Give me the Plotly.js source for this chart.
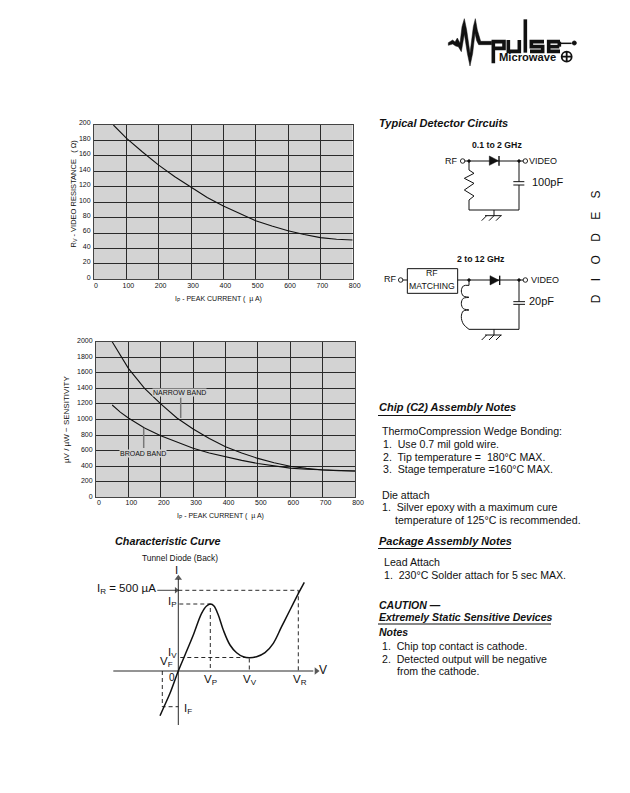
<!DOCTYPE html>
<html><head><meta charset="utf-8">
<script src="https://cdn.plot.ly/plotly-3.0.1.min.js"></script>
<style>html,body{margin:0;padding:0;background:#fff}#c{width:630px;height:793px}</style>
</head><body><div id="c"></div>
<script>
// ---------- chart data ----------
const resCurrent = [60,100,150,200,250,300,350,400,450,500,550,600,650,700,750,800];
const resOhms    = [200,183,165,148,133,119,106,95,85,76,69,63,58,54,52,51];
const narrowCurrent = [50,75,100,150,200,250,300,350,400,450,500,550,600,650,700,750,800];
const narrowSens    = [2000,1820,1657,1400,1200,1020,878,755,650,570,500,445,400,372,350,342,338];
const broadCurrent  = [50,75,100,150,200,250,300,350,400,450,500,550,600,650,700,750,800];
const broadSens     = [1186,1095,1020,890,790,705,630,570,520,475,435,402,375,360,350,342,338];
// characteristic curve, arbitrary units about the origin
const ivV = [-18.3,-14.3,-8.3,0,6.7,15,23.3,28.3,32.3,35.7,40,45,51.7,58.3,65,71,78.3,86.7,95,103.3,111.7,121,126];
const ivI = [-44.7,-35.7,-22.3,0,16,36,57.7,65,67,65,56,41,26,18.3,14.3,13.3,14.3,18.3,27.7,44.3,61,79.3,88.7];
const ticksX = [0,100,200,300,400,500,600,700,800];

const FONT = 'Liberation Sans, Arial, sans-serif';
const INK = '#111';
const W = 630, H = 793;
const dom = (a,b,t)=>[a/t,b/t];
const domY = (top,bot)=>[1-bot/H,1-top/H];
const NB = n=>'\u00a0'.repeat(n);

function mainAxis(extra){
  return Object.assign({
    showgrid:true, gridcolor:'#2a2a2a', gridwidth:1, zeroline:false,
    showline:true, linecolor:'#444', linewidth:1, mirror:true,
    ticks:'', tickfont:{family:FONT,size:7,color:INK}, fixedrange:true
  },extra);
}
function hiddenAxis(extra){
  return Object.assign({visible:false,showgrid:false,zeroline:false,fixedrange:true},extra);
}

const layout = {
  width:W,height:H,margin:{l:0,r:0,t:0,b:0,pad:0},
  paper_bgcolor:'#fff',plot_bgcolor:'rgba(0,0,0,0)',showlegend:false,
  font:{family:FONT,color:INK},
  xaxis:mainAxis({domain:dom(94,352.7,W),range:[0,800],anchor:'y',tickvals:ticksX,ticklabelshift:2,ticklabelstandoff:-1}),
  yaxis:mainAxis({domain:domY(125,279.3),range:[0,200],anchor:'x',dtick:20,ticklabelshift:-2,ticklabelstandoff:1}),
  xaxis2:mainAxis({domain:dom(96,355,W),range:[0,800],anchor:'y2',tickvals:ticksX,ticklabelshift:3,ticklabelstandoff:-2}),
  yaxis2:mainAxis({domain:domY(341.7,497.3),range:[0,2000],anchor:'x2',dtick:200,ticklabelshift:-1,ticklabelstandoff:1}),
  xaxis3:hiddenAxis({domain:dom(110,330,W),range:[-68.3,151.7],anchor:'y3'}),
  yaxis3:hiddenAxis({domain:domY(565,725),range:[-54,106],anchor:'x3'}),
  xaxis4:hiddenAxis({domain:[0,1],range:[0,W],anchor:'y4'}),
  yaxis4:hiddenAxis({domain:[0,1],range:[H,0],anchor:'x4'}),
  shapes:[
    {type:'rect',xref:'x',yref:'y',x0:0,x1:800,y0:0,y1:200,fillcolor:'#d3d3d3',line:{width:0},layer:'below'},
    {type:'rect',xref:'x2',yref:'y2',x0:0,x1:800,y0:0,y1:2000,fillcolor:'#d3d3d3',line:{width:0},layer:'below'}
  ],
  annotations:[]
};

// ---------- page text ----------
function txt(x,y,text,o={}){
  layout.annotations.push({xref:'x4',yref:'y4',x,y,text,showarrow:false,
    xanchor:o.a||'left',yanchor:'middle',textangle:o.rot||0,
    bgcolor:o.bg||'rgba(0,0,0,0)',borderpad:0,
    font:{family:FONT,size:o.s||10.6,color:INK,weight:o.b?700:400,style:o.i?'italic':'normal'}});
}
const HS = 11;
const head=(x,y,t,s=HS)=>txt(x,y,t,{s,b:1,i:1});

// axis titles
txt(218.5,299,'I<sub>P</sub> - PEAK CURRENT (  µ A)',{s:7,a:'center'});
txt(73,193.5,'R<sub>V</sub> - VIDEO RESISTANCE   ( Ω)',{s:7.5,a:'center',rot:-90});
txt(220.5,515.7,'I<sub>P</sub> - PEAK CURRENT (  µ A)',{s:7,a:'center'});
txt(66,420,'µV / µW − SENSITIVITY',{s:8,a:'center',rot:-90});

head(378,123,'Typical Detector Circuits');
head(377.5,407,'Chip (C2) Assembly Notes');
txt(381,431,'ThermoCompression Wedge Bonding:');
txt(381.5,444,'1.  Use 0.7 mil gold wire.');
txt(381.5,456.5,'2.  Tip temperature =  180°C MAX.');
txt(381.5,468.5,'3.  Stage temperature =160°C MAX.');
txt(381,494.5,'Die attach');
txt(381,506.5,'1.  Silver epoxy with a maximum cure');
txt(393.5,519.5,'temperature of 125°C is recommended.');
head(378,541,'Package Assembly Notes');
txt(382.5,562,'Lead Attach');
txt(383,575,'1.  230°C Solder attach for 5 sec MAX.');
head(378,604.5,'CAUTION —',HS-0.5);
head(378,616.5,'Extremely Static Sensitive Devices',HS-0.5);
head(378,632,'Notes',HS-0.5);
txt(381,646,'1.  Chip top contact is cathode.');
txt(381,658.5,'2.  Detected output will be negative');
txt(395.5,671,'from the cathode.');
txt(595.7,246.5,['D','I','O','D','E','S'].join(NB(4)),{s:12,rot:-90,a:'center'});

// circuit labels
txt(497,145,'0.1 to 2 GHz',{s:8.7,a:'center',b:1});
txt(444,160.7,'RF',{s:9});
txt(528,160.7,'VIDEO',{s:9});
txt(531,182.3,'100pF',{s:11});
txt(480.7,259,'2 to 12 GHz',{s:8.7,a:'center',b:1});
txt(383,279.3,'RF',{s:9});
txt(530,279.7,'VIDEO',{s:9});
txt(432,273.3,'RF',{s:8.7,a:'center'});
txt(432,285.7,'MATCHING',{s:8.7,a:'center'});
txt(528.3,301,'20pF',{s:11});

// chart callouts
txt(179,392.3,'NARROW BAND',{s:7,a:'center',bg:'#d3d3d3'});
txt(143,453.7,'BROAD BAND',{s:7,a:'center',bg:'#d3d3d3'});

// characteristic curve labels
txt(113.5,541,'Characteristic Curve',{s:10.8,b:1,i:1});
txt(180,557.7,'Tunnel Diode (Back)',{s:8.4,a:'center'});
const L=11.5;
txt(96,589,'I<sub>R</sub> = 500 µA',{s:L});
txt(167,602,'I<sub>P</sub>',{s:L});
txt(166.5,653,'I<sub>V</sub>',{s:L});
txt(159,662,'V<sub>F</sub>',{s:L});
txt(168,677,'0',{s:10});
txt(210,680,'V<sub>P</sub>',{s:L,a:'center'});
txt(250,680,'V<sub>V</sub>',{s:L,a:'center'});
txt(300,680,'V<sub>R</sub>',{s:L,a:'center'});
txt(183,709,'I<sub>F</sub>',{s:L});
txt(174,570,'I',{s:L});
txt(318,670,'V',{s:12});

// logo text
txt(497.5,56.7,'Microwave',{s:11.2,b:1});

// ---------- traces ----------
const data=[];
const lineT=(x,y,xa,ya,c=INK,w=1,dash='solid',shape='linear')=>data.push({type:'scatter',mode:'lines',x,y,xaxis:xa,yaxis:ya,
  hoverinfo:'skip',connectgaps:false,line:{color:c,width:w,dash,shape}});

lineT(resCurrent,resOhms,'x','y',INK,1.1);
lineT(narrowCurrent,narrowSens,'x2','y2',INK,1.1);
lineT(broadCurrent,broadSens,'x2','y2',INK,1.1);

// characteristic curve
lineT(ivV,ivI,'x3','y3',INK,1.5,'solid','spline');
const dashV=[1,32,32,null,2,71,71,null,0,120,120,null,-16,-16,0];
const dashI=[67,67,0,null,13.5,13.5,0,null,80.7,80.7,0,null,0,-35.7,-35.7];
lineT(dashV,dashI,'x3','y3',INK,0.9,'4px,3px');
lineT([-65,135],[0,0],'x3','y3',INK,0.9);
lineT([0,0],[-54,92],'x3','y3',INK,0.9);
lineT([-21,-2],[80.7,80.7],'x3','y3',INK,0.8);
data.push({type:'scatter',mode:'markers',x:[138,0,-2],y:[0,93,80.7],xaxis:'x3',yaxis:'y3',hoverinfo:'skip',
  marker:{symbol:['triangle-right','triangle-up','triangle-right'],size:[6.5,6.5,5.5],color:INK,line:{width:0}}});

// schematic drawings on the page axis; coordinates are given relative to a local origin at 1/3 scale
const P=(ox,oy,pts)=>{const x=[],y=[];pts.forEach(p=>{if(!p){x.push(null);y.push(null)}else{x.push(ox+p[0]/3);y.push(oy+p[1]/3)}});return{x,y}};
const draw=(pts,w=1,ox=370,oy=110,shape='linear')=>{const q=P(ox,oy,pts);lineT(q.x,q.y,'x4','y4',INK,w,'solid',shape)};
const fill=(pts,ox=370,oy=110)=>{const q=P(ox,oy,pts);data.push({type:'scatter',mode:'lines',x:q.x,y:q.y,xaxis:'x4',yaxis:'y4',hoverinfo:'skip',
  fill:'toself',fillcolor:INK,line:{color:INK,width:0.5}})};
const dots=(pts,sym,size,ox=370,oy=110)=>{const q=P(ox,oy,pts);data.push({type:'scatter',mode:'markers',x:q.x,y:q.y,xaxis:'x4',yaxis:'y4',hoverinfo:'skip',
  marker:{symbol:sym,size,color:INK,line:{color:INK,width:0.9}}})};

// circuit 1
draw([[284,153],[460,153],null,[297,153],[297,180],[312,190],[283,205],[312,220],[283,240],[312,258],[297,270],[297,300],[447,300],[447,225],null,[447,215],[447,153],
  null,[430,215],[463,215],null,[430,225],[463,225],null,[372,300],[372,317],null,[345,317],[395,317],null,[335,332],[350,317],null,[357,332],[372,317],null,[378,332],[393,317]]);
fill([[358,138],[358,166],[385,152],[358,138]]);
draw([[387,138],[387,167]],1.4);
dots([[278,153],[466,153]],'circle-open',4.5);
dots([[297,153],[447,153]],'circle',2.5);

// circuit 2
draw([[98,510],[112,510],null,[263,510],[460,510],null,[297,510],[297,526],null,[297,658],[447,658],[447,583],null,[447,575],[447,510],
  null,[430,575],[465,575],null,[430,583],[465,583],null,[372,658],[372,675],null,[345,675],[395,675],null,[335,690],[350,675],null,[357,690],[372,675],null,[378,690],[393,675]]);
draw([[297,526],[280,528],[274,543],[280,558],[297,562],[280,565],[274,580],[280,596],[297,600],[280,603],[274,620],[280,642],[297,658]],1,370,110,'spline');
draw([[112,476],[263,476],[263,550],[112,550],[112,476]],1);
fill([[360,497],[360,525],[387,511],[360,497]]);
draw([[389,497],[389,525]],1.4);
dots([[92,510],[466,510]],'circle-open',4.5);
dots([[297,510],[447,510]],'circle',2.5);

// logo
fill([[25,98],[38,90],[45,96],[52,84],[60,100],[66,50],[73,26],[80,60],[90,130],[96,80],[100,50],[106,26],[112,60],[122,94],[155,94],[155,104],[116,104],[110,92],[105,70],[98,130],[90,168],[82,130],[73,72],[64,125],[55,110],[47,108],[38,102],[25,106],[25,98]],440,10);
draw([[160,160],[160,95],[192,95],[192,115],[160,115],null,[205,90],[205,124],[238,124],[238,90],null,[256,28],[256,128],
  null,[312,95],[274,95],[274,110],[308,110],[308,124],[270,124],null,[358,110],[326,110],null,[360,95],[326,95],[326,124],[360,124],null,[358,95],[358,110]],3.6,440,10);
draw([[360,100],[395,100]],1.5,440,10);
dots([[403,99]],'circle',4,440,10);
data.push((()=>{const q=P(440,10,[[380,140]]);return{type:'scatter',mode:'markers',x:q.x,y:q.y,xaxis:'x4',yaxis:'y4',hoverinfo:'skip',
  marker:{symbol:'circle-cross-open',size:10,color:INK,line:{color:INK,width:1.8}}}})());

// note underlines and callout leaders
lineT([378,511,null,378,511,null,378,551],[415.5,415.5,null,548.5,548.5,null,624,624],'x4','y4',INK,1);
lineT([180.7,180.7,null,143.7,143.7],[397.7,418,null,428,448],'x4','y4','#777',1.5);

Plotly.newPlot('c',data,layout,{staticPlot:true,displayModeBar:false});
</script></body></html>
